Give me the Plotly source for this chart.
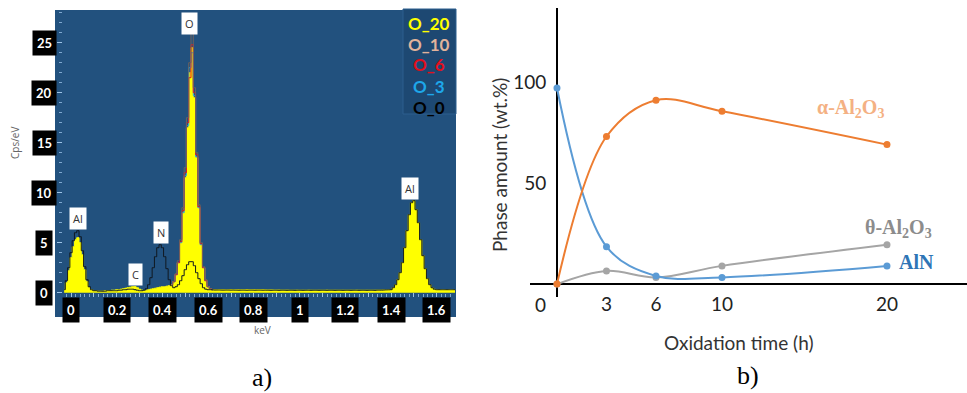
import plotly.graph_objects as go

# ---------------- Panel a: EDS spectra (Cps/eV vs keV), 0.01 keV bins ----------------
bin_start_kev = -0.03
bin_width_kev = 0.01

o20_counts = [
    0.3, 1.0, 2.2, 3.5, 4.6, 5.3, 5.5, 5.0, 3.8, 2.3,
    1.1, 0.5, 0.3, 0.2, 0.2, 0.15, 0.15, 0.15, 0.2, 0.2,
    0.2, 0.25, 0.25, 0.3, 0.3, 0.35, 0.4, 0.45, 0.5, 0.55,
    0.6, 0.6, 0.5, 0.35, 0.25, 0.2, 0.25, 0.3, 0.35, 0.4,
    0.45, 0.5, 0.55, 0.6, 0.6, 0.65, 0.7, 0.8, 1.1, 1.8,
    3.0, 5.0, 8.0, 11.5, 16.5, 22.0, 24.5, 19.5, 13.5, 8.5,
    4.8, 2.5, 1.2, 0.6, 0.4,
    0.32, 0.3, 0.3, 0.31, 0.3, 0.3, 0.29, 0.3, 0.31, 0.3,
    0.3, 0.3, 0.29, 0.3, 0.3, 0.31, 0.3, 0.3, 0.3, 0.29,
    0.3, 0.3, 0.3, 0.29, 0.28, 0.28, 0.28, 0.27,
    0.27, 0.27, 0.26, 0.26, 0.26, 0.26, 0.25, 0.25, 0.25, 0.26,
    0.25, 0.25, 0.25, 0.25, 0.26, 0.25, 0.25, 0.25, 0.25, 0.25,
    0.25, 0.25, 0.26, 0.25, 0.25, 0.25, 0.25, 0.25, 0.25, 0.25,
    0.25, 0.25, 0.25, 0.25, 0.25, 0.26, 0.25, 0.25, 0.25, 0.25,
    0.25, 0.25, 0.25, 0.25, 0.26, 0.26, 0.27, 0.28, 0.28, 0.29,
    0.3, 0.5, 0.8, 1.3, 2.0, 3.0, 4.5, 6.2, 7.8, 9.0,
    9.2, 8.3, 7.0, 5.3, 3.7, 2.4, 1.4, 0.8, 0.5, 0.35,
    0.3, 0.3, 0.3, 0.3, 0.3, 0.3, 0.3, 0.3, 0.3,
]

o0_counts = [
    0.3, 1.2, 2.5, 4.0, 5.2, 6.0, 6.2, 5.6, 4.2, 2.6,
    1.3, 0.6, 0.3, 0.2, 0.2, 0.15, 0.15, 0.15, 0.15, 0.2,
    0.2, 0.2, 0.2, 0.2, 0.25, 0.25, 0.3, 0.3, 0.35, 0.35,
    0.35, 0.3, 0.25, 0.2, 0.2, 0.25, 0.4, 0.8, 1.5, 2.5,
    3.6, 4.5, 4.8, 4.5, 3.6, 2.4, 1.3, 0.7, 0.5, 0.6,
    0.8, 1.2, 1.7, 2.3, 2.8, 3.1, 3.1, 2.7, 2.0, 1.4,
    0.9, 0.5, 0.35, 0.3, 0.3,
    0.28, 0.27, 0.27, 0.27, 0.26, 0.26, 0.26, 0.26, 0.26, 0.26,
    0.25, 0.25, 0.25, 0.25, 0.25, 0.25, 0.25, 0.25, 0.25, 0.25,
    0.25, 0.25, 0.25, 0.25, 0.24, 0.24, 0.24, 0.24,
    0.24, 0.24, 0.24, 0.24, 0.24, 0.24, 0.24, 0.24, 0.24, 0.24,
    0.24, 0.24, 0.24, 0.24, 0.24, 0.24, 0.24, 0.24, 0.24, 0.24,
    0.24, 0.24, 0.24, 0.24, 0.24, 0.24, 0.24, 0.24, 0.24, 0.24,
    0.24, 0.24, 0.24, 0.24, 0.24, 0.24, 0.24, 0.24, 0.24, 0.24,
    0.24, 0.24, 0.24, 0.24, 0.25, 0.25, 0.26, 0.27, 0.28, 0.29,
    0.3, 0.5, 0.8, 1.3, 2.0, 3.0, 4.5, 6.2, 7.8, 9.0,
    9.2, 8.3, 7.0, 5.3, 3.7, 2.4, 1.4, 0.8, 0.5, 0.35,
    0.3, 0.3, 0.3, 0.3, 0.3, 0.3, 0.3, 0.3, 0.3,
]

# O-peak region only (0.44 .. 0.62 keV) for the intermediate spectra
o_region_start_kev = 0.44
o10_counts = [0.8, 1.1, 1.9, 3.2, 5.3, 8.5, 12.5, 17.5, 23.0, 26.0, 20.5, 14.0, 8.8, 5.0, 2.6, 1.3, 0.6, 0.4, 0.3]
o6_counts = [0.8, 1.1, 1.8, 3.0, 5.1, 8.2, 12.0, 17.0, 21.5, 24.8, 20.0, 13.8, 8.6, 4.9, 2.5, 1.2, 0.6, 0.4, 0.3]
o3_counts = [0.8, 1.1, 1.8, 3.0, 5.0, 8.0, 11.7, 16.7, 22.5, 24.0, 19.7, 13.6, 8.5, 4.8, 2.5, 1.2, 0.6, 0.4, 0.3]

spectrum_names = ["O_20", "O_10", "O_6", "O_3", "O_0"]
spectrum_colors = ["#ffff00", "#e2b39b", "#e3101c", "#1ea7ea", "#000000"]

peak_labels = ["Al", "C", "N", "O", "Al"]
peak_kev = [0.03, 0.28, 0.393, 0.52, 1.485]
peak_label_y = [7.4, 1.8, 6.0, 26.9, 10.4]

a_xticks = [0, 0.2, 0.4, 0.6, 0.8, 1, 1.2, 1.4, 1.6]
a_xtick_text = ["0", "0.2", "0.4", "0.6", "0.8", "1", "1.2", "1.4", "1.6"]
a_yticks = [0, 5, 10, 15, 20, 25]

# ---------------- Panel b: phase amounts ----------------
time_h = [0, 3, 6, 10, 20]
alpha_al2o3 = [0, 73, 91, 85.5, 69]
theta_al2o3 = [0, 6.5, 3.3, 9, 19.5]
aln = [97, 18.5, 4, 3.3, 9]
b_xticks = [3, 6, 10, 20]
b_yticks = [50, 100]

W, H = 967, 393
def px(x):
    return x / W
def py(y):
    return 1 - y / H

fig = go.Figure()

# spectra
fig.add_trace(go.Scatter(x0=bin_start_kev, dx=bin_width_kev, y=o20_counts, mode="lines",
                         line=dict(shape="hvh", color=spectrum_colors[0], width=1),
                         fill="tozeroy", fillcolor=spectrum_colors[0],
                         name=spectrum_names[0], showlegend=False, xaxis="x", yaxis="y"))
fig.add_trace(go.Scatter(x0=o_region_start_kev, dx=bin_width_kev, y=o3_counts, mode="lines",
                         line=dict(shape="hvh", color=spectrum_colors[3], width=1),
                         name=spectrum_names[3], showlegend=False, xaxis="x", yaxis="y"))
fig.add_trace(go.Scatter(x0=o_region_start_kev, dx=bin_width_kev, y=o6_counts, mode="lines",
                         line=dict(shape="hvh", color=spectrum_colors[2], width=1),
                         name=spectrum_names[2], showlegend=False, xaxis="x", yaxis="y"))
fig.add_trace(go.Scatter(x0=o_region_start_kev, dx=bin_width_kev, y=o10_counts, mode="lines",
                         line=dict(shape="hvh", color="#6f625d", width=1),
                         name=spectrum_names[1], showlegend=False, xaxis="x", yaxis="y"))
fig.add_trace(go.Scatter(x0=bin_start_kev, dx=bin_width_kev, y=o0_counts, mode="lines",
                         line=dict(shape="hvh", color="#101820", width=1),
                         name=spectrum_names[4], showlegend=False, xaxis="x", yaxis="y"))

# phase curves
for vals, color in [(theta_al2o3, "#a5a5a5"), (aln, "#5b9bd5"), (alpha_al2o3, "#ed7d31")]:
    fig.add_trace(go.Scatter(x=time_h, y=vals, mode="lines+markers",
                             line=dict(shape="spline", smoothing=1.0, color=color, width=2),
                             marker=dict(size=7, color=color),
                             showlegend=False, xaxis="x2", yaxis="y2"))

C = dict(xanchor="center", yanchor="middle", showarrow=False)
annotations = []
# panel a tick label boxes
for v, t in zip(a_xticks, a_xtick_text):
    annotations.append(dict(x=v, xref="x", y=py(310), yref="paper", text=t,
                            font=dict(family="Lato", size=13, color="white", weight="bold"),
                            bgcolor="black", borderpad=4, **C))
for v in a_yticks:
    annotations.append(dict(x=px(44), xref="paper", y=v, yref="y", text=str(v),
                            font=dict(family="Lato", size=13, color="white", weight="bold"),
                            bgcolor="black", borderpad=4, **C))
# peak labels
for lab, e, yv in zip(peak_labels, peak_kev, peak_label_y):
    annotations.append(dict(x=e, xref="x", y=yv, yref="y", text=lab,
                            font=dict(family="Open Sans", size=11, color="#333333"),
                            bgcolor="white", borderpad=3, **C))
# legend texts
legend_y = [23, 44, 65, 86, 107]
for name, color, yy in zip(spectrum_names, spectrum_colors, legend_y):
    annotations.append(dict(x=px(429), xref="paper", y=py(yy), yref="paper", text=name,
                            font=dict(family="Lato", size=17, color=color, weight="bold"), **C))
# panel a axis titles
annotations.append(dict(x=px(15), xref="paper", y=py(143), yref="paper", text="Cps/eV", textangle=-90,
                        font=dict(family="Open Sans", size=10, color="#666666"), **C))
annotations.append(dict(x=px(262), xref="paper", y=py(330), yref="paper", text="keV",
                        font=dict(family="Open Sans", size=10, color="#666666"), **C))
# panel b
annotations.append(dict(x=0, xref="x2", y=py(304), yref="paper", text="0", showarrow=False,
                        xanchor="right", yanchor="middle", xshift=-9,
                        font=dict(family="Lato", size=19, color="#222222")))
annotations.append(dict(x=px(500), xref="paper", y=py(165), yref="paper", text="Phase amount (wt.%)",
                        textangle=-90, font=dict(family="Lato", size=19, color="#333333"), **C))
annotations.append(dict(x=px(738), xref="paper", y=py(342), yref="paper", text="Oxidation time (h)",
                        font=dict(family="Lato", size=19, color="#333333"), **C))
annotations.append(dict(x=17.8, xref="x2", y=87, yref="y2", text="<b>α-Al<sub>2</sub>O<sub>3</sub></b>",
                        font=dict(family="Liberation Serif", size=20, color="#f4b183"), **C))
annotations.append(dict(x=20.7, xref="x2", y=27.5, yref="y2", text="<b>θ-Al<sub>2</sub>O<sub>3</sub></b>",
                        font=dict(family="Liberation Serif", size=20, color="#8c8c8c"), **C))
annotations.append(dict(x=21.8, xref="x2", y=11, yref="y2", text="<b>AlN</b>",
                        font=dict(family="Liberation Serif", size=20, color="#2e75b6"), **C))
# panel captions
annotations.append(dict(x=px(262), xref="paper", y=py(377), yref="paper", text="a)",
                        font=dict(family="Liberation Serif", size=26, color="black"), **C))
annotations.append(dict(x=px(748), xref="paper", y=py(375), yref="paper", text="b)",
                        font=dict(family="Liberation Serif", size=26, color="black"), **C))

shapes = [
    dict(type="rect", xref="paper", yref="paper", x0=px(55), x1=px(456), y0=py(317), y1=py(10),
         fillcolor="#22517e", line=dict(width=0), layer="below"),
    dict(type="rect", xref="paper", yref="paper", x0=px(403), x1=px(456), y0=py(114), y1=py(9),
         fillcolor="#1d4872", line=dict(width=1, color="#2d5f8e"), layer="below"),
]

fig.update_layout(
    width=W, height=H, margin=dict(l=0, r=0, t=0, b=0),
    paper_bgcolor="white", plot_bgcolor="rgba(0,0,0,0)",
    xaxis=dict(domain=[px(63), px(455)], range=[-0.035, 1.68], anchor="y",
               showgrid=False, zeroline=False, showticklabels=False, showline=False,
               ticks="inside", ticklen=4, tickcolor="#9dc3e6", tick0=0, dtick=0.1,
               minor=dict(ticks="inside", ticklen=3, dtick=0.02, tickcolor="#7fa8d0")),
    yaxis=dict(domain=[py(297), py(9)], range=[-0.43, 28.37], anchor="x",
               showgrid=False, zeroline=False, showticklabels=False, showline=False,
               ticks="outside", ticklen=5, tickcolor="#9dc3e6", tick0=0, dtick=5,
               minor=dict(ticks="outside", ticklen=3, dtick=1, tickcolor="#7fa8d0")),
    xaxis2=dict(domain=[px(530), 1.0], range=[-1.636, 24.85], anchor="free", position=py(291),
                showgrid=False, zeroline=True, zerolinecolor="black", zerolinewidth=1.5,
                showline=False, tickvals=b_xticks, ticks="",
                tickfont=dict(family="Lato", size=19, color="#222222")),
    yaxis2=dict(domain=[py(297), py(8)], range=[-6.4, 136.6], anchor="free", position=px(557),
                showgrid=False, zeroline=True, zerolinecolor="black", zerolinewidth=1.5,
                showline=False, tickvals=b_yticks, ticks="outside", ticklen=7,
                tickcolor="rgba(0,0,0,0)",
                tickfont=dict(family="Lato", size=19, color="#222222")),
    annotations=annotations, shapes=shapes,
)

fig.write_html("out.html", config={"displayModeBar": False},
               post_script="document.body.style.margin='0';")
